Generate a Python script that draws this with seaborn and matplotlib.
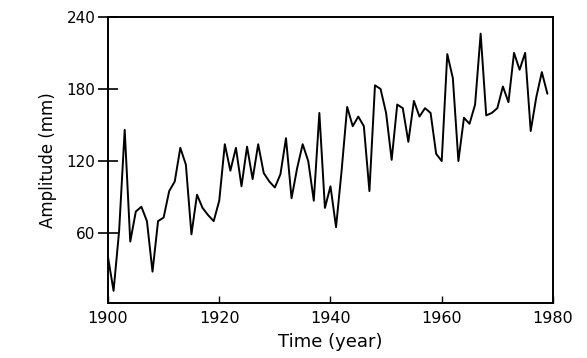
import matplotlib
matplotlib.use("Agg")
import matplotlib.pyplot as plt
import pandas as pd
import seaborn as sns

# yearly amplitude
years = list(range(1900, 1980))
amplitude = [40, 12, 62, 146, 53, 78, 82, 70, 28, 70,
             73, 95, 103, 131, 117, 59, 92, 81, 75, 70,
             87, 134, 112, 131, 99, 132, 105, 134, 110, 103,
             98, 109, 139, 89, 114, 134, 120, 87, 160, 81,
             99, 65, 112, 165, 149, 157, 149, 95, 183, 180,
             160, 121, 167, 164, 136, 170, 157, 164, 160, 126,
             120, 209, 189, 120, 156, 151, 167, 226, 158, 160,
             164, 182, 169, 210, 196, 210, 145, 173, 194, 176]
x_ticks = [1900, 1920, 1940, 1960, 1980]
y_ticks = [60, 120, 180, 240]

df = pd.DataFrame({"year": years, "amp": amplitude})

sns.set_style("white", {"xtick.bottom": True, "ytick.left": True,
                        "text.color": "black", "axes.labelcolor": "black",
                        "xtick.color": "black", "ytick.color": "black"})
plt.rcParams['font.family'] = ['DejaVu Sans']

fig = plt.figure(figsize=(5.87, 3.58), dpi=100)
ax = fig.add_axes([0.184, 0.154, 0.758, 0.799])

sns.lineplot(data=df, x="year", y="amp", ax=ax, color="black", linewidth=1.4)

ax.set_xlim(1900, 1980)
ax.set_ylim(2, 240)
ax.set_xticks(x_ticks)
ax.set_yticks(y_ticks)
ax.tick_params(axis="x", direction="in", length=5, width=1, pad=6, labelsize=11.5, colors="black")
ax.tick_params(axis="y", direction="inout", length=14, width=1.2, pad=2, labelsize=11, colors="black")
for s in ax.spines.values():
    s.set_color("black")
    s.set_linewidth(1.4)

ax.set_xlabel("Time (year)", fontsize=13, labelpad=5, color="black")
ax.set_ylabel("Amplitude (mm)", fontsize=12, labelpad=7, color="black")

fig.savefig("out.png", dpi=100, facecolor="white")
